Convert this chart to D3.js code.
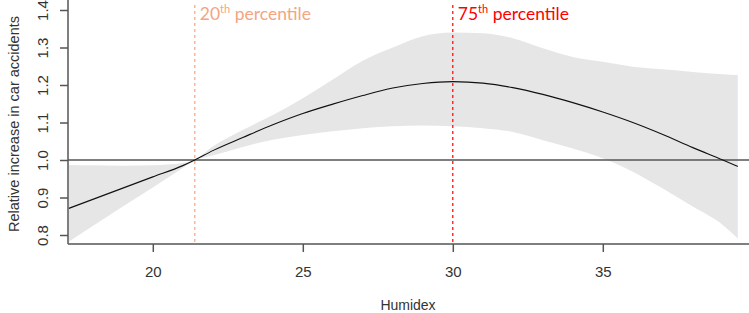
<!DOCTYPE html>
<html>
<head>
<meta charset="utf-8">
<script src="https://cdn.jsdelivr.net/npm/d3@7"></script>
<style>
    body { margin: 0; background: #fff; }
    svg { display: block; }
    .tick text { font-family: "Liberation Sans", Arial, sans-serif; fill: #333; }
</style>
</head>
<body>
<div id="chart"></div>
<script>
// humidex grid and estimated relative risk with its confidence band
const humidex = [17.2, 18, 19, 20, 21, 21.4, 22, 23, 24, 25, 26, 27, 28, 29, 30, 31, 32, 33, 34, 35, 36, 37, 38, 39, 39.5];
const fit =   [0.871, 0.895, 0.925, 0.955, 0.985, 1.0, 1.025, 1.06, 1.094, 1.124, 1.149, 1.172, 1.192, 1.204, 1.209, 1.205, 1.193, 1.175, 1.153, 1.128, 1.1, 1.068, 1.033, 1.0, 0.983];
const lower = [0.782, 0.824, 0.876, 0.927, 0.979, 0.999, 1.012, 1.035, 1.054, 1.067, 1.077, 1.085, 1.09, 1.092, 1.09, 1.085, 1.075, 1.053, 1.031, 1.005, 0.969, 0.924, 0.876, 0.827, 0.791];
const upper = [0.987, 0.986, 0.985, 0.986, 0.992, 1.001, 1.036, 1.08, 1.12, 1.165, 1.215, 1.265, 1.3, 1.33, 1.34, 1.338, 1.325, 1.298, 1.275, 1.262, 1.249, 1.242, 1.235, 1.229, 1.227];

const xTicks = [20, 25, 30, 35];
const yTicks = [0.8, 0.9, 1.0, 1.1, 1.2, 1.3, 1.4];

const percentiles = [
    {value: 21.4, rank: "20", color: "#F4A582"},
    {value: 30, rank: "75", color: "#FF0000"}
];

const width = 749, height = 313;
const left = 68, bottom = 244;

const svg = d3.select("#chart").append("svg")
    .attr("width", width)
    .attr("height", height);

const x = d3.scaleLinear().domain([20, 35]).range([152.8, 602.8]);
const y = d3.scaleLinear().domain([0.8, 1.4]).range([235, 10]);

const rows = humidex.map((h, i) => ({h: h, fit: fit[i], lo: lower[i], hi: upper[i]}));

// confidence band
svg.append("path")
    .datum(rows)
    .attr("fill", "#E6E6E6")
    .attr("d", d3.area()
        .curve(d3.curveMonotoneX)
        .x(d => x(d.h))
        .y0(d => y(d.lo))
        .y1(d => y(d.hi)));

// reference line at 1
svg.append("line")
    .attr("x1", left).attr("x2", width)
    .attr("y1", y(1)).attr("y2", y(1))
    .attr("stroke", "#555")
    .attr("stroke-width", 1.5);

// fitted curve
svg.append("path")
    .datum(rows)
    .attr("fill", "none")
    .attr("stroke", "#111")
    .attr("stroke-width", 1.1)
    .attr("d", d3.line()
        .curve(d3.curveMonotoneX)
        .x(d => x(d.h))
        .y(d => y(d.fit)));

// percentile markers
percentiles.forEach(p => {
    svg.append("line")
        .attr("x1", x(p.value)).attr("x2", x(p.value))
        .attr("y1", 5).attr("y2", bottom)
        .attr("stroke", p.color)
        .attr("stroke-width", 1.2)
        .attr("stroke-dasharray", "3,3");
    const t = svg.append("text")
        .attr("x", x(p.value) + 5)
        .attr("y", 20)
        .attr("fill", p.color)
        .style("font-family", "Lato, 'Open Sans', sans-serif")
        .style("font-size", "17.5px");
    t.append("tspan").text(p.rank);
    t.append("tspan").attr("dy", -7).style("font-size", "11px").text("th");
    t.append("tspan").attr("dy", 7).text(" percentile");
});

// axes
const xAxis = svg.append("g")
    .attr("transform", `translate(0,${bottom})`)
    .call(d3.axisBottom(x).tickValues(xTicks).tickSize(8).tickPadding(14).tickFormat(d3.format("d")));
xAxis.select(".domain").remove();
xAxis.selectAll(".tick line").attr("stroke", "#555").attr("stroke-width", 1.5);
xAxis.selectAll(".tick text").style("font-size", "15px");

const yAxis = svg.append("g")
    .attr("transform", `translate(${left},0)`)
    .call(d3.axisLeft(y).tickValues(yTicks).tickSize(8).tickFormat(d3.format(".1f")));
yAxis.select(".domain").remove();
yAxis.selectAll(".tick line").attr("stroke", "#555").attr("stroke-width", 1.5);
yAxis.selectAll(".tick text")
    .attr("x", null).attr("dy", null)
    .attr("transform", "translate(-20,0) rotate(-90)")
    .attr("text-anchor", "middle")
    .style("font-size", "15px");

// axis lines (R style "l" box)
svg.append("line")
    .attr("x1", left).attr("x2", width)
    .attr("y1", bottom).attr("y2", bottom)
    .attr("stroke", "#555").attr("stroke-width", 1.5);
svg.append("line")
    .attr("x1", left).attr("x2", left)
    .attr("y1", 0).attr("y2", bottom)
    .attr("stroke", "#555").attr("stroke-width", 1.5);

// axis titles
svg.append("text")
    .attr("x", 408)
    .attr("y", 310)
    .attr("text-anchor", "middle")
    .attr("fill", "#333")
    .style("font-family", "'Liberation Sans', Arial, sans-serif")
    .style("font-size", "14px")
    .text("Humidex");

svg.append("text")
    .attr("transform", "translate(19,124) rotate(-90)")
    .attr("text-anchor", "middle")
    .attr("fill", "#333")
    .style("font-family", "'Liberation Sans', Arial, sans-serif")
    .style("font-size", "14.5px")
    .text("Relative increase in car accidents");
</script>
</body>
</html>
